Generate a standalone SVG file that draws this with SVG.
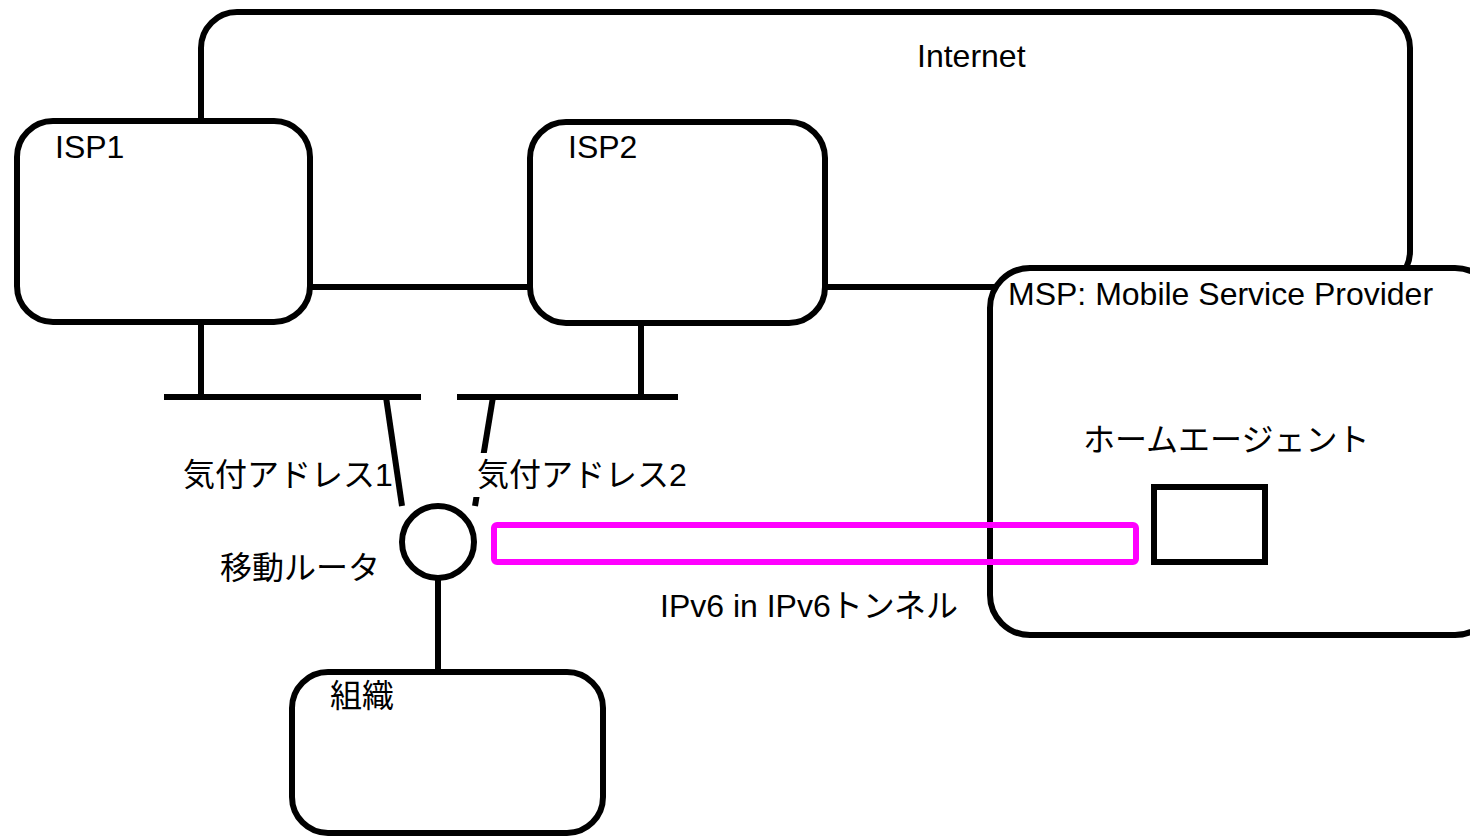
<svg xmlns="http://www.w3.org/2000/svg" width="1470" height="837" viewBox="0 0 1470 837">
<style>
.box{fill:#fff;stroke:#000;stroke-width:6}
.ln{fill:none;stroke:#000;stroke-width:6}
.t{font-family:"Liberation Sans","Noto Sans CJK JP",sans-serif;font-size:32px;fill:#000}
</style>
<rect width="1470" height="837" fill="#fff"/>
<g id="internet"><rect class="box" x="201" y="12" width="1209" height="275" rx="36"/><text class="t" x="917" y="67">Internet</text></g>
<g id="connectors">
<line class="ln" x1="201" y1="322" x2="201" y2="397"/>
<line class="ln" x1="164" y1="397" x2="421" y2="397"/>
<line class="ln" x1="641" y1="323" x2="641" y2="397"/>
<line class="ln" x1="457" y1="397" x2="678" y2="397"/>
<line class="ln" x1="386" y1="397" x2="402" y2="506"/>
<line class="ln" x1="493" y1="397" x2="475" y2="506"/>
<line class="ln" x1="438" y1="579" x2="438" y2="672"/>
</g>
<g id="isp1"><rect class="box" x="17" y="121" width="293" height="201" rx="36"/><text class="t" x="55" y="158">ISP1</text></g>
<g id="isp2"><rect class="box" x="530" y="122" width="295" height="201" rx="36"/><text class="t" x="568" y="158">ISP2</text></g>
<g id="msp"><rect class="box" x="990" y="268" width="505" height="367" rx="40"/><text class="t" x="1008" y="305">MSP: Mobile Service Provider</text></g>
<g id="homeagent"><rect class="box" x="1154" y="487" width="111" height="75"/><text class="t" x="1083" y="451">ホームエージェント</text></g>
<g id="tunnel"><rect x="494" y="525" width="642" height="37" rx="3" fill="none" stroke="#f0f" stroke-width="6"/><text class="t" x="660" y="617">IPv6 in IPv6トンネル</text></g>
<g id="coa1"><text class="t" x="183" y="486">気付アドレス1</text></g>
<g id="coa2"><rect x="472" y="453" width="215" height="44" fill="#fff"/><text class="t" x="477" y="486">気付アドレス2</text></g>
<g id="router"><circle cx="438" cy="542" r="36" fill="#fff" stroke="#000" stroke-width="6"/><text class="t" x="220" y="579">移動ルータ</text></g>
<g id="org"><rect class="box" x="292" y="672" width="311" height="161" rx="36"/><text class="t" x="330" y="707">組織</text></g>
</svg>
